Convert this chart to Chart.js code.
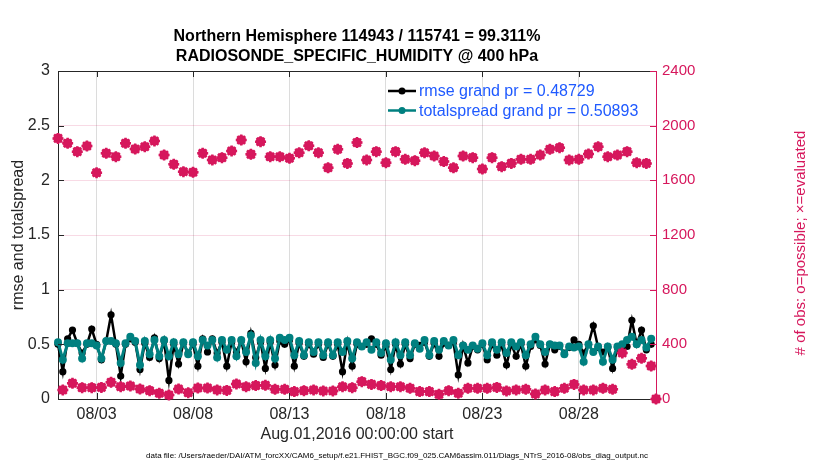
<!DOCTYPE html>
<html>
<head>
<meta charset="utf-8">
<script src="https://cdn.jsdelivr.net/npm/chart.js@4/dist/chart.umd.min.js"></script>
<style>
  html, body { margin: 0; padding: 0; background: #fff; }
  #chart { display: block; width: 830px; height: 470px; }
</style>
</head>
<body>
<canvas id="chart" width="830" height="470"></canvas>
<script>
// ===== DATA =====

// bin centres, days since Aug.01,2016 00:00 (6-hourly bins)
const binDay = [
  0, 0.25, 0.5, 0.75, 1, 1.25, 1.5, 1.75, 2, 2.25, 2.5, 2.75, 3, 3.25, 3.5, 3.75,
  4, 4.25, 4.5, 4.75, 5, 5.25, 5.5, 5.75, 6, 6.25, 6.5, 6.75, 7, 7.25, 7.5, 7.75,
  8, 8.25, 8.5, 8.75, 9, 9.25, 9.5, 9.75, 10, 10.25, 10.5, 10.75, 11, 11.25, 11.5, 11.75,
  12, 12.25, 12.5, 12.75, 13, 13.25, 13.5, 13.75, 14, 14.25, 14.5, 14.75, 15, 15.25, 15.5, 15.75,
  16, 16.25, 16.5, 16.75, 17, 17.25, 17.5, 17.75, 18, 18.25, 18.5, 18.75, 19, 19.25, 19.5, 19.75,
  20, 20.25, 20.5, 20.75, 21, 21.25, 21.5, 21.75, 22, 22.25, 22.5, 22.75, 23, 23.25, 23.5, 23.75,
  24, 24.25, 24.5, 24.75, 25, 25.25, 25.5, 25.75, 26, 26.25, 26.5, 26.75, 27, 27.25, 27.5, 27.75,
  28, 28.25, 28.5, 28.75, 29, 29.25, 29.5, 29.75, 30, 30.25, 30.5, 30.75, 31
];

const rmse = [
  0.50, 0.25, 0.55, 0.63, 0.51, 0.42, 0.50, 0.64, 0.50, 0.36, 0.53, 0.77, 0.50, 0.21, 0.50, 0.55,
  0.52, 0.27, 0.51, 0.38, 0.56, 0.37, 0.53, 0.17, 0.50, 0.32, 0.51, 0.42, 0.50, 0.30, 0.55, 0.43,
  0.55, 0.42, 0.52, 0.30, 0.52, 0.43, 0.53, 0.34, 0.60, 0.38, 0.52, 0.28, 0.52, 0.31, 0.53, 0.50,
  0.54, 0.30, 0.51, 0.39, 0.50, 0.41, 0.50, 0.38, 0.50, 0.39, 0.50, 0.25, 0.52, 0.30, 0.50, 0.48,
  0.50, 0.55, 0.50, 0.40, 0.48, 0.27, 0.50, 0.32, 0.50, 0.37, 0.50, 0.49, 0.52, 0.39, 0.51, 0.39,
  0.51, 0.49, 0.52, 0.22, 0.49, 0.33, 0.48, 0.45, 0.50, 0.36, 0.50, 0.40, 0.49, 0.31, 0.50, 0.39,
  0.50, 0.30, 0.48, 0.54, 0.49, 0.32, 0.50, 0.45, 0.48, 0.42, 0.47, 0.54, 0.50, 0.42, 0.50, 0.67,
  0.47, 0.43, 0.47, 0.28, 0.47, 0.48, 0.48, 0.72, 0.50, 0.63, 0.45, 0.50, null
];

const totalspread = [
  0.52, 0.36, 0.51, 0.51, 0.51, 0.37, 0.51, 0.51, 0.49, 0.37, 0.53, 0.53, 0.51, 0.33, 0.51, 0.57,
  0.53, 0.31, 0.53, 0.41, 0.54, 0.39, 0.54, 0.39, 0.52, 0.41, 0.52, 0.41, 0.52, 0.39, 0.54, 0.49,
  0.54, 0.38, 0.54, 0.45, 0.54, 0.39, 0.54, 0.43, 0.58, 0.33, 0.54, 0.39, 0.54, 0.37, 0.56, 0.54,
  0.56, 0.40, 0.53, 0.40, 0.52, 0.43, 0.52, 0.40, 0.52, 0.40, 0.52, 0.43, 0.53, 0.37, 0.52, 0.48,
  0.52, 0.45, 0.52, 0.42, 0.51, 0.36, 0.52, 0.40, 0.52, 0.40, 0.51, 0.46, 0.54, 0.40, 0.53, 0.45,
  0.53, 0.49, 0.54, 0.40, 0.49, 0.45, 0.49, 0.46, 0.51, 0.40, 0.52, 0.45, 0.52, 0.42, 0.52, 0.48,
  0.52, 0.40, 0.50, 0.57, 0.50, 0.43, 0.50, 0.49, 0.49, 0.41, 0.48, 0.47, 0.48, 0.34, 0.50, 0.43,
  0.48, 0.34, 0.48, 0.36, 0.48, 0.50, 0.54, 0.57, 0.50, 0.54, 0.47, 0.55, null
];

// possible and evaluated counts overlap in the picture, one list serves both
const obsCount = [
  1907, 66, 1871, 115, 1810, 83, 1851, 83, 1656, 85, 1798, 122, 1773, 90, 1871, 95,
  1829, 73, 1846, 61, 1888, 42, 1785, 29, 1717, 73, 1663, 46, 1659, 80, 1798, 80,
  1749, 66, 1766, 63, 1815, 110, 1895, 90, 1790, 98, 1883, 100, 1773, 71, 1773, 71,
  1761, 54, 1802, 61, 1853, 66, 1802, 59, 1692, 59, 1827, 90, 1724, 83, 1876, 127,
  1749, 107, 1810, 98, 1729, 90, 1810, 90, 1754, 78, 1744, 54, 1802, 54, 1778, 34,
  1737, 61, 1692, 42, 1778, 78, 1766, 78, 1683, 78, 1766, 85, 1700, 59, 1724, 66,
  1754, 71, 1754, 37, 1785, 66, 1827, 54, 1839, 78, 1749, 107, 1754, 66, 1793, 66,
  1846, 78, 1773, 71, 1785, 337, 1810, 254, 1729, 298, 1724, 241, 0
];

const tickDays = [2, 7, 12, 17, 22, 27];
const tickLabels = ['08/03', '08/08', '08/13', '08/18', '08/23', '08/28'];

const titleLines = [
  'Northern Hemisphere 114943 / 115741 = 99.311%',
  'RADIOSONDE_SPECIFIC_HUMIDITY @ 400 hPa'
];
const xTitle = 'Aug.01,2016 00:00:00 start';
const yTitle = 'rmse and totalspread';
const y2Title = '# of obs: o=possible; \u00d7=evaluated';
const footer = 'data file: /Users/raeder/DAI/ATM_forcXX/CAM6_setup/f.e21.FHIST_BGC.f09_025.CAM6assim.011/Diags_NTrS_2016-08/obs_diag_output.nc';

// ===== STYLE =====
const FONT = '"Liberation Sans", Arial, Helvetica, sans-serif';
const INK = '#262626';
const CRIMSON = '#d6175c';
const TEAL = '#008080';
const LEGEND_BLUE = '#1f5aff';

const pts = vals => binDay.map((d, i) => ({ x: d, y: vals[i] }));

// titles, legend, frame top and inward ticks
const decorations = {
  id: 'decorations',
  afterDraw(chart) {
    const { ctx, chartArea: a, scales } = chart;
    ctx.save();

    ctx.lineWidth = 1;
    ctx.strokeStyle = INK;
    ctx.beginPath();
    ctx.moveTo(a.left, a.top + 0.5);
    ctx.lineTo(a.right, a.top + 0.5);
    ctx.stroke();

    ctx.beginPath();
    for (const d of tickDays) {
      const x = Math.round(scales.x.getPixelForValue(d)) + 0.5;
      ctx.moveTo(x, a.bottom); ctx.lineTo(x, a.bottom - 6);
      ctx.moveTo(x, a.top); ctx.lineTo(x, a.top + 6);
    }
    for (const t of scales.y.ticks) {
      const y = Math.round(scales.y.getPixelForValue(t.value)) + 0.5;
      ctx.moveTo(a.left, y); ctx.lineTo(a.left + 6, y);
    }
    ctx.stroke();

    ctx.strokeStyle = CRIMSON;
    ctx.beginPath();
    for (const t of scales.y2.ticks) {
      const y = Math.round(scales.y2.getPixelForValue(t.value)) + 0.5;
      ctx.moveTo(a.right, y); ctx.lineTo(a.right - 6, y);
    }
    ctx.stroke();

    // title
    ctx.fillStyle = '#000';
    ctx.textAlign = 'center';
    ctx.textBaseline = 'middle';
    ctx.font = 'bold 16px ' + FONT;
    ctx.fillText(titleLines[0], 357, 37);
    ctx.fillText(titleLines[1], 357, 57);

    // axis titles
    ctx.font = '16px ' + FONT;
    ctx.fillStyle = INK;
    ctx.fillText(xTitle, 357, 435);

    ctx.save();
    ctx.translate(19, (a.top + a.bottom) / 2);
    ctx.rotate(-Math.PI / 2);
    ctx.fillText(yTitle, 0, 0);
    ctx.restore();

    ctx.save();
    ctx.translate(801, (a.top + a.bottom) / 2 + 8);
    ctx.rotate(-Math.PI / 2);
    ctx.fillStyle = CRIMSON;
    ctx.font = '15px ' + FONT;
    ctx.fillText(y2Title, 0, 0);
    ctx.restore();

    ctx.font = '8px ' + FONT;
    ctx.fillStyle = '#000';
    ctx.fillText(footer, 397, 456);

    // legend, rmse first
    const rows = chart.data.datasets
      .filter(ds => ds.legendRow !== undefined)
      .sort((p, q) => p.legendRow - q.legendRow);
    ctx.textAlign = 'left';
    ctx.font = '16px ' + FONT;
    rows.forEach((ds, i) => {
      const y = 91 + i * 19.5;
      ctx.strokeStyle = ds.borderColor;
      ctx.lineWidth = 2.5;
      ctx.beginPath();
      ctx.moveTo(388, y); ctx.lineTo(416, y);
      ctx.stroke();
      ctx.fillStyle = ds.pointBackgroundColor;
      ctx.beginPath();
      ctx.arc(402, y, 3.5, 0, Math.PI * 2);
      ctx.fill();
      ctx.fillStyle = LEGEND_BLUE;
      ctx.fillText(ds.label, 419, y + 1);
    });

    ctx.restore();
  }
};

const ctx = document.getElementById('chart').getContext('2d');
new Chart(ctx, {
  type: 'line',
  data: {
    datasets: [
      {
        label: 'evaluated',
        data: pts(obsCount),
        yAxisID: 'y2',
        showLine: false,
        pointStyle: 'star',
        pointRadius: 5.5,
        borderColor: CRIMSON,
        borderWidth: 2.5,
        pointBackgroundColor: CRIMSON,
        clip: false,
        order: 0
      },
      {
        label: 'possible',
        data: pts(obsCount),
        yAxisID: 'y2',
        showLine: false,
        pointStyle: 'circle',
        pointRadius: 3.8,
        borderColor: CRIMSON,
        borderWidth: 2,
        pointBackgroundColor: 'rgba(0,0,0,0)',
        clip: false,
        order: 1
      },
      {
        label: 'totalspread grand pr = 0.50893',
        legendRow: 1,
        data: pts(totalspread),
        yAxisID: 'y',
        borderColor: TEAL,
        borderWidth: 3,
        pointRadius: 4,
        pointBackgroundColor: TEAL,
        pointBorderColor: TEAL,
        pointBorderWidth: 0,
        tension: 0,
        clip: false,
        order: 2
      },
      {
        label: 'rmse grand pr = 0.48729',
        legendRow: 0,
        data: pts(rmse),
        yAxisID: 'y',
        borderColor: '#000',
        borderWidth: 2.5,
        pointRadius: 3.6,
        pointBackgroundColor: '#000',
        pointBorderColor: '#000',
        pointBorderWidth: 0,
        tension: 0,
        clip: false,
        order: 3
      }
    ]
  },
  options: {
    responsive: false,
    animation: false,
    devicePixelRatio: 1,
    layout: { padding: { top: 71, left: 0, right: 0, bottom: 0 } },
    plugins: {
      legend: { display: false },
      title: { display: false },
      tooltip: { enabled: false }
    },
    scales: {
      x: {
        type: 'linear',
        position: 'bottom',
        min: 0,
        max: 31,
        afterBuildTicks(scale) { scale.ticks = tickDays.map(v => ({ value: v })); },
        afterFit(scale) { scale.height = 71; },
        ticks: {
          autoSkip: false,
          maxRotation: 0,
          padding: 6,
          color: INK,
          font: { family: FONT, size: 16 },
          callback: v => tickLabels[tickDays.indexOf(v)]
        },
        grid: { color: '#dcdcdc', drawTicks: false },
        border: { color: INK }
      },
      y: {
        position: 'left',
        min: 0,
        max: 3,
        afterFit(scale) { scale.width = 58; },
        ticks: {
          stepSize: 0.5,
          padding: 8,
          color: INK,
          font: { family: FONT, size: 16 },
          callback: v => String(v)
        },
        grid: { display: false, drawTicks: false },
        border: { color: INK }
      },
      y2: {
        position: 'right',
        min: 0,
        max: 2400,
        afterFit(scale) { scale.width = 174; },
        ticks: {
          stepSize: 400,
          padding: 6,
          color: CRIMSON,
          font: { family: FONT, size: 15 },
          callback: v => String(v)
        },
        grid: { color: 'rgba(214,23,92,0.16)', drawTicks: false },
        border: { color: CRIMSON }
      }
    }
  },
  plugins: [decorations]
});
</script>
</body>
</html>
